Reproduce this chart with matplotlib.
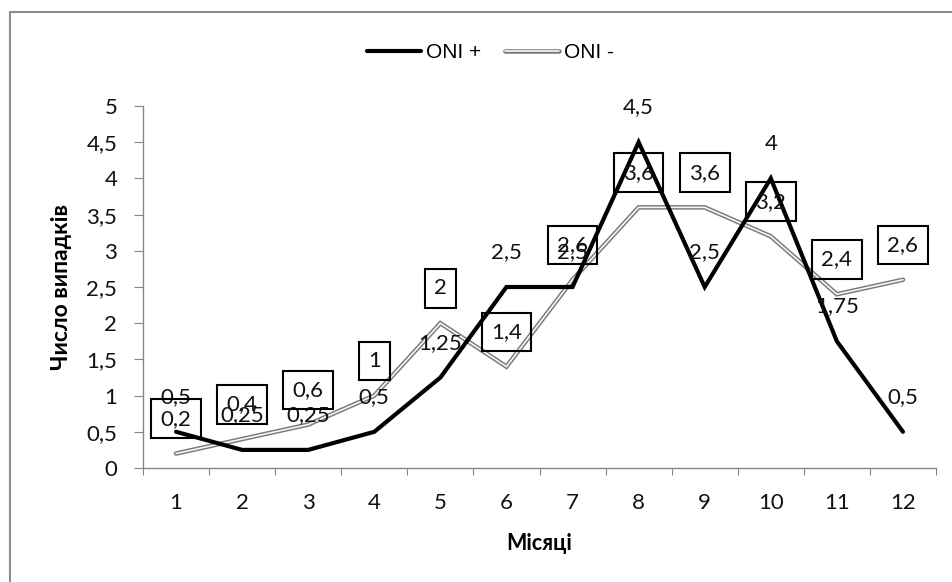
import numpy as np
import matplotlib
matplotlib.use("Agg")
import matplotlib.pyplot as plt
from matplotlib import patheffects as pe
from matplotlib.patches import Rectangle

plt.rcParams["font.family"] = ["Lato", "Noto Sans", "DejaVu Sans"]

# Monthly case counts for positive and negative ONI phases
months = [1, 2, 3, 4, 5, 6, 7, 8, 9, 10, 11, 12]
oni_pos = [0.5, 0.25, 0.25, 0.5, 1.25, 2.5, 2.5, 4.5, 2.5, 4, 1.75, 0.5]
oni_neg = [0.2, 0.4, 0.6, 1, 2, 1.4, 2.6, 3.6, 3.6, 3.2, 2.4, 2.6]
series_names = ["ONI +", "ONI -"]
y_ticks = [0, 0.5, 1, 1.5, 2, 2.5, 3, 3.5, 4, 4.5, 5]
x_title = "Місяці"
y_title = "Число випадків"


def fmt(v):
    return f"{v:g}".replace(".", ",")


W, H = 952, 582
fig = plt.figure(figsize=(W / 100, H / 100), dpi=100)
ax = fig.add_axes([143 / W, 1 - 468 / H, 793 / W, 362 / H])

axis_grey = "#868686"

# series lines
ax.plot(months, oni_pos, color="black", lw=3, solid_joinstyle="miter",
        solid_capstyle="round", zorder=3, label=series_names[0])
ax.plot(months, oni_neg, color="#f6f6f6", lw=1.2, solid_joinstyle="miter",
        solid_capstyle="round", zorder=2, label=series_names[1],
        path_effects=[pe.Stroke(linewidth=3.3, foreground="#7a7a7a"), pe.Normal()])

# data labels
for x, v in zip(months, oni_pos):
    ax.annotate(fmt(v), (x, v), xytext=(0, 25), textcoords="offset points",
                ha="center", va="center", fontsize=16, color="#111111", zorder=5)
for x, v in zip(months, oni_neg):
    ax.annotate(fmt(v), (x, v), xytext=(0, 25), textcoords="offset points",
                ha="center", va="center", fontsize=16, color="#111111", zorder=5,
                bbox=dict(boxstyle="square,pad=0.42", fc="none", ec="black", lw=1.5))

# axes
ax.set_xlim(0.5, 12.5)
ax.set_ylim(0, 5)
for s in ("top", "right"):
    ax.spines[s].set_visible(False)
for s in ("left", "bottom"):
    ax.spines[s].set_color(axis_grey)
    ax.spines[s].set_linewidth(1)

ax.set_xticks(np.arange(0.5, 13, 1))
ax.set_xticks(months, labels=[str(m) for m in months], minor=True)
ax.tick_params(axis="x", which="major", length=5, color=axis_grey,
               direction="out", labelbottom=False)
ax.tick_params(axis="x", which="minor", length=0, pad=18, labelsize=16,
               labelcolor="#111111")
ax.set_yticks(y_ticks, labels=[fmt(v) for v in y_ticks])
ax.tick_params(axis="y", length=6.5, color=axis_grey, direction="out",
               pad=12, labelsize=16, labelcolor="#111111")

ax.set_xlabel(x_title, fontsize=15.5, fontweight="bold", va="center")
ax.xaxis.set_label_coords(0.5, (468 - 543) / 362)
ax.set_ylabel(y_title, fontsize=16.5, fontweight="bold", va="center")
ax.yaxis.set_label_coords((61 - 143) / 793, 0.5)

# legend
leg = ax.legend(loc="center", bbox_to_anchor=(490.5 / W, 1 - 53 / H),
                bbox_transform=fig.transFigure, ncol=2, frameon=False,
                borderpad=0, handlelength=2.6, handletextpad=0.25,
                columnspacing=1.15, prop={"family": "Liberation Sans", "size": 15})

# outer chart frame
fig.add_artist(Rectangle((10 / W, -0.5), 2, 1 - 12 / H + 0.5,
                         transform=fig.transFigure, fill=False,
                         ec="#8c8c8c", lw=1.5))

fig.savefig("out.png", dpi=100)
